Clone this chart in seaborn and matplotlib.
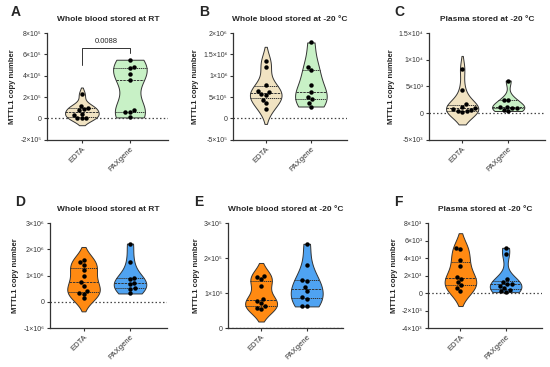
import numpy as np
import pandas as pd
import matplotlib
matplotlib.use("Agg")
import matplotlib.pyplot as plt
import seaborn as sns

TUBES = ["EDTA", "PAXgene"]

# --- values (MTTL1 copy number) ---
a_edta = np.array([0.02, 0.05, 0.08, 0.35, 0.45, 0.8, 0.9, 1.0, 1.2, 2.25]) * 1e5
a_pax = np.array([0.1, 0.6, 0.65, 0.8, 3.6, 4.2, 4.7, 4.8, 5.5]) * 1e5

b_edta = np.array([0.21, 0.36, 0.44, 0.55, 0.57, 0.62, 0.64, 0.79, 1.21, 1.34]) * 1e6
b_pax = np.array([0.28, 0.37, 0.45, 0.51, 0.63, 0.79, 1.13, 1.21, 1.78]) * 1e6

c_edta = np.array([0.3, 0.4, 0.45, 0.5, 0.8, 1.0, 1.2, 1.7, 4.4, 8.3]) * 1e3
c_pax = np.array([0.4, 0.6, 0.9, 1.0, 1.1, 1.2, 2.4, 2.5, 6.1]) * 1e3

d_edta = np.array([0.13, 0.3, 0.35, 0.4, 0.6, 0.75, 1.0, 1.2, 1.4, 1.52, 1.6]) * 1e6
d_pax = np.array([0.32, 0.5, 0.52, 0.67, 0.72, 0.87, 0.92, 1.52, 2.22]) * 1e6

e_edta = np.array([0.55, 0.58, 0.62, 0.72, 0.78, 0.84, 1.2, 1.4, 1.45, 1.5]) * 1e5
e_pax = np.array([0.62, 0.63, 0.84, 0.89, 1.05, 1.17, 1.36, 1.38, 1.81, 2.41]) * 1e5

f_edta = np.array([0.23, 0.57, 0.88, 1.26, 1.56, 1.83, 3.12, 3.73, 5.03, 5.14]) * 1e3
f_pax = np.array([0.11, 0.23, 0.3, 0.6, 0.76, 0.99, 1.07, 1.26, 1.56, 4.42, 5.18]) * 1e3

# axis ticks and labels
a_ticks = [-2e5, 0, 2e5, 4e5, 6e5, 8e5]
a_labels = ["-2×10⁵", "0", "2×10⁵", "4×10⁵", "6×10⁵", "8×10⁵"]
b_ticks = [-5e5, 0, 5e5, 1e6, 1.5e6, 2e6]
b_labels = ["-5×10⁵", "0", "5×10⁵", "1×10⁶", "1.5×10⁶", "2×10⁶"]
c_ticks = [-5e3, 0, 5e3, 1e4, 1.5e4]
c_labels = ["-5×10³", "0", "5×10³", "1×10⁴", "1.5×10⁴"]
d_ticks = [-1e6, 0, 1e6, 2e6, 3e6]
d_labels = ["-1×10⁶", "0", "1×10⁶", "2×10⁶", "3×10⁶"]
e_ticks = [0, 1e5, 2e5, 3e5]
e_labels = ["0", "1×10⁵", "2×10⁵", "3×10⁵"]
f_ticks = [-4e3, -2e3, 0, 2e3, 4e3, 6e3, 8e3]
f_labels = ["-4×10³", "-2×10³", "0", "2×10³", "4×10³", "6×10³", "8×10³"]

TITLES = ["Whole blood stored at RT", "Whole blood stored at -20 °C", "Plasma stored at -20 °C"]

sns.set_style("ticks")
plt.rcParams["font.family"] = ["Liberation Sans", "DejaVu Sans"]

BEIGE, GREEN = "#F1E3C2", "#C8F1C6"
ORANGE, BLUE = "#FF8A12", "#4FA3F2"
EDGE = "#333333"

panels = [
    ("A", TITLES[0], a_edta, a_pax, (BEIGE, GREEN), a_ticks, a_labels, [0.086, 0.619, 0.22, 0.291]),
    ("B", TITLES[1], b_edta, b_pax, (BEIGE, GREEN), b_ticks, b_labels, [0.424, 0.619, 0.207, 0.291]),
    ("C", TITLES[2], c_edta, c_pax, (BEIGE, GREEN), c_ticks, c_labels, [0.780, 0.619, 0.211, 0.291]),
    ("D", TITLES[0], d_edta, d_pax, (ORANGE, BLUE), d_ticks, d_labels, [0.091, 0.106, 0.213, 0.286]),
    ("E", TITLES[1], e_edta, e_pax, (ORANGE, BLUE), e_ticks, e_labels, [0.415, 0.106, 0.209, 0.286]),
    ("F", TITLES[2], f_edta, f_pax, (ORANGE, BLUE), f_ticks, f_labels, [0.778, 0.106, 0.207, 0.286]),
]

fig = plt.figure(figsize=(5.5, 3.67), dpi=100)

for letter, title, edta, pax, colors, ticks, labels, pos in panels:
    ax = fig.add_axes(pos)
    df = pd.DataFrame({
        "tube": ["EDTA"] * len(edta) + ["PAXgene"] * len(pax),
        "value": np.concatenate([edta, pax]),
    })
    ax.axhline(0, color="#444444", lw=0.9, ls=(0, (1.2, 1.8)), zorder=0)

    # EDTA violin extends past the data, PAXgene is cut at min/max
    sns.violinplot(data=df[df.tube == "EDTA"], x="tube", y="value", order=TUBES, ax=ax,
                   color=colors[0], saturation=1, linecolor=EDGE, linewidth=0.7,
                   inner="quart", cut=1.5, bw_adjust=1.0, density_norm="width", width=0.7)
    sns.violinplot(data=df[df.tube == "PAXgene"], x="tube", y="value", order=TUBES, ax=ax,
                   color=colors[1], saturation=1, linecolor=EDGE, linewidth=0.7,
                   inner="quart", cut=0, bw_adjust=0.9, density_norm="width", width=0.7)
    sns.swarmplot(data=df, x="tube", y="value", order=TUBES, ax=ax,
                  color="black", size=3.2)

    ax.set_xlim(-0.72, 1.8)
    ax.set_ylim(ticks[0], ticks[-1])
    ax.set_yticks(ticks)
    ax.set_yticklabels(labels, fontsize=5)
    ax.set_xticks([0, 1])
    ax.set_xticklabels(TUBES, fontsize=5.5, rotation=45, ha="right", rotation_mode="anchor")
    ax.set_xlabel("")
    ax.set_ylabel("MTTL1 copy number", fontsize=5.5, fontweight="bold", labelpad=3)
    ax.set_title(title, fontsize=6, fontweight="bold", pad=9)
    for side in ["left", "bottom"]:
        ax.spines[side].set_color(EDGE)
        ax.spines[side].set_linewidth(0.9)
    sns.despine(ax=ax)
    ax.tick_params(axis="both", length=2.5, width=0.8, colors=EDGE, pad=1.5)
    ax.text(-0.3, 1.16, letter, transform=ax.transAxes, fontsize=10, fontweight="bold")

    if letter == "A":
        ax.plot([0, 0, 1, 1], [5.0e5, 6.6e5, 6.6e5, 6.1e5], color=EDGE, lw=0.7)
        ax.text(0.5, 6.85e5, "0.0088", ha="center", va="bottom", fontsize=5.5)

fig.savefig("out.png", dpi=100)
